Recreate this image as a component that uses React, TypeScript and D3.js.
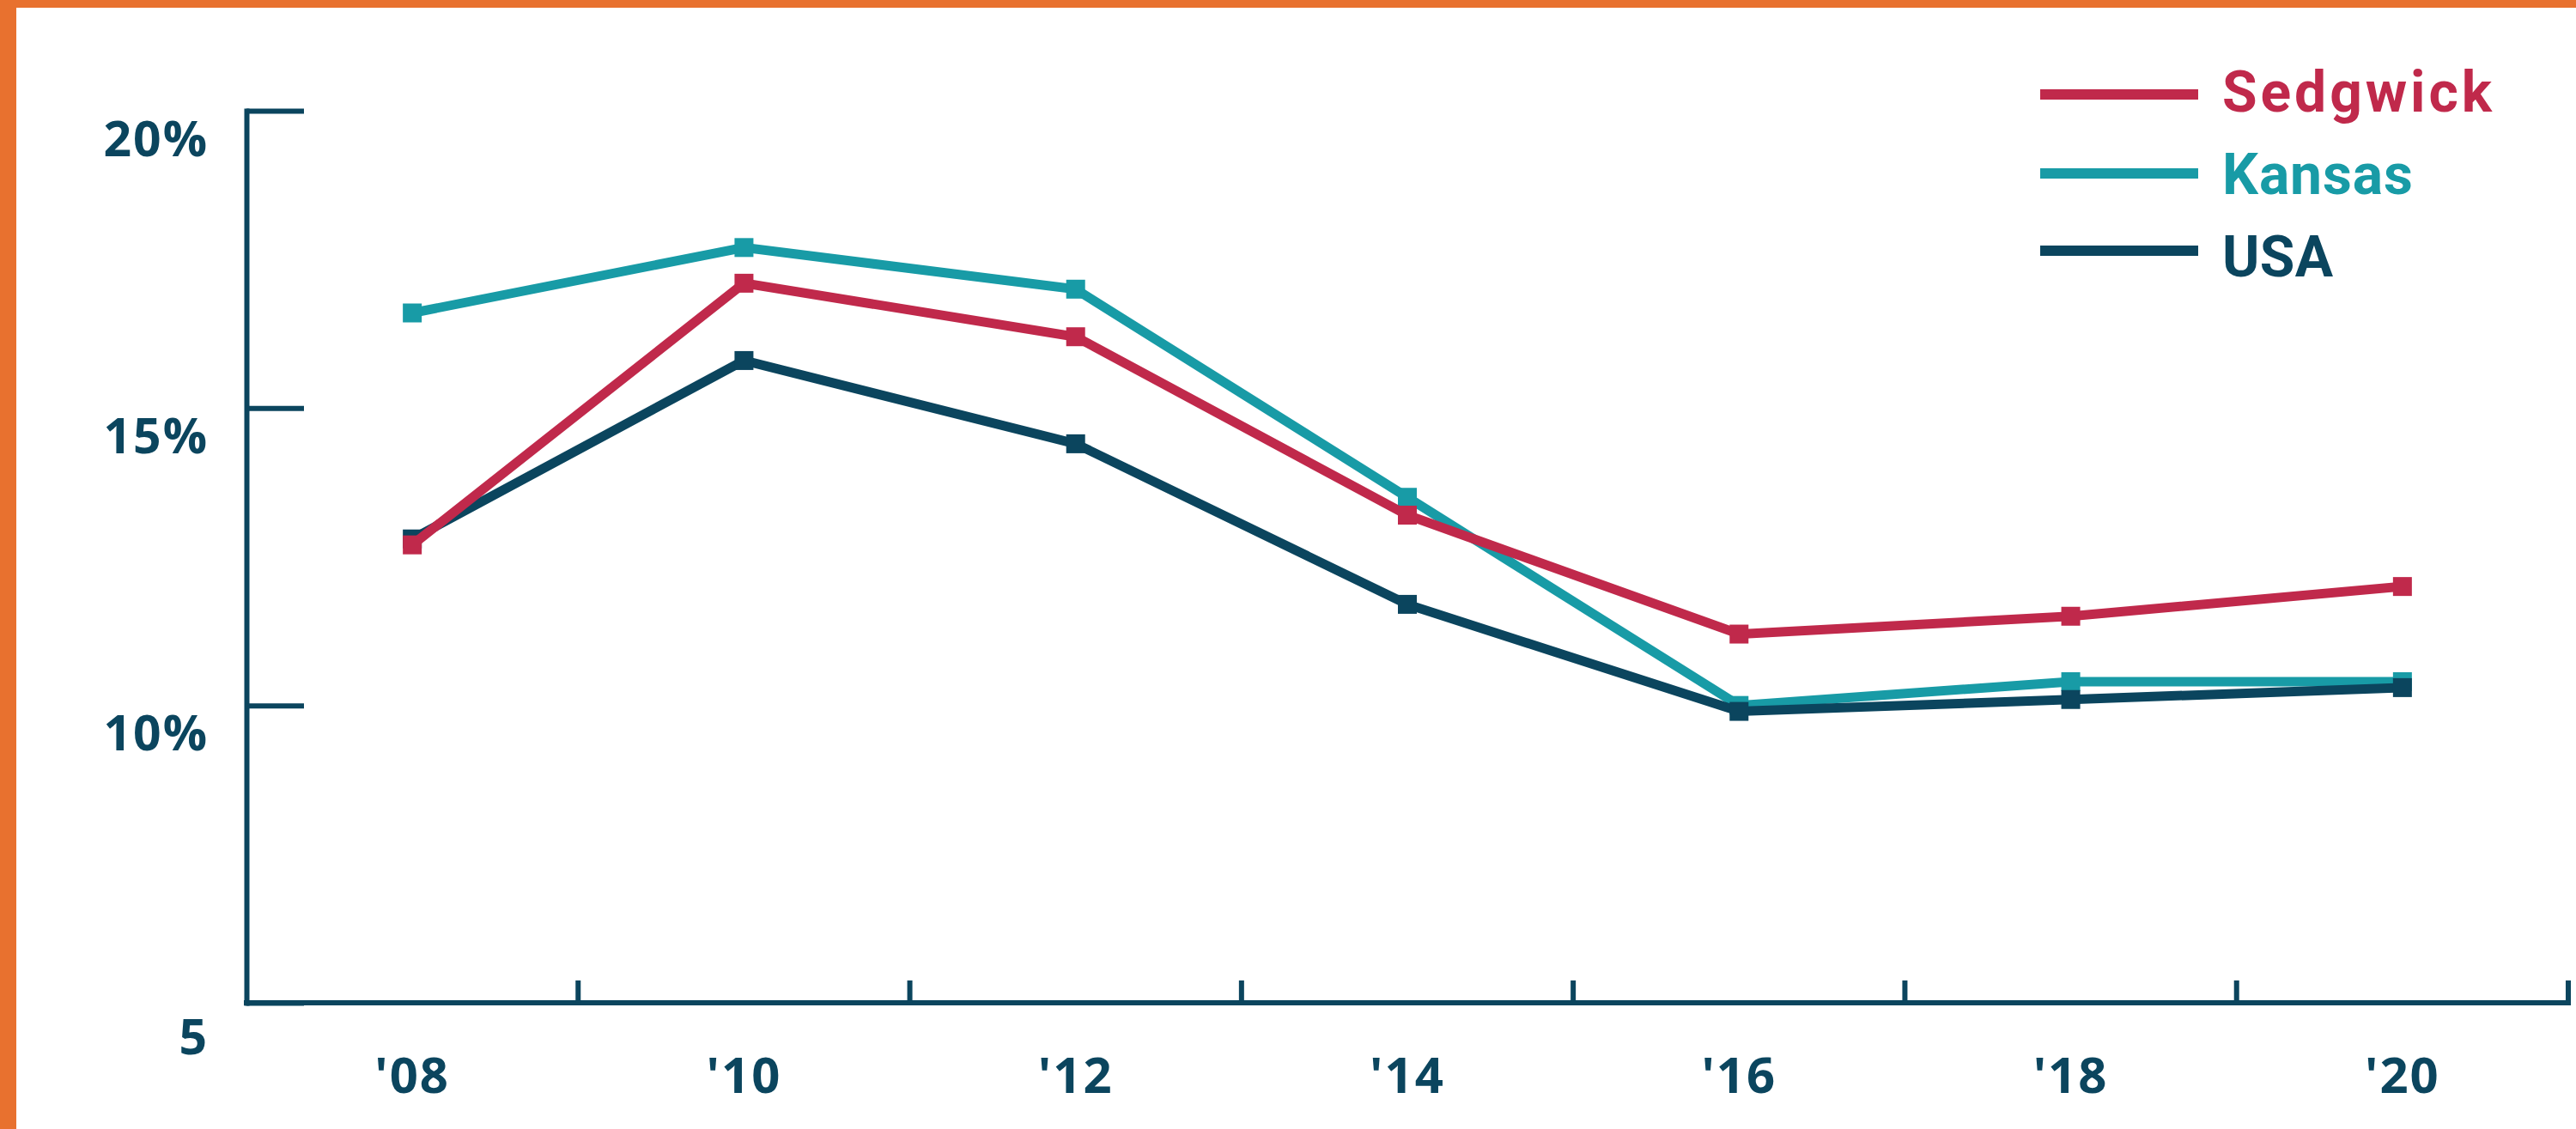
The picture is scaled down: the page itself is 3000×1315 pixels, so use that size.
import React, { useEffect, useRef } from 'react';
import * as d3 from 'd3';

const years = ["'08", "'10", "'12", "'14", "'16", "'18", "'20"];
const sedgwick = [12.7, 17.1, 16.2, 13.2, 11.2, 11.5, 12.0];
const kansas = [16.6, 17.7, 17.0, 13.5, 10.0, 10.4, 10.4];
const usa = [12.8, 15.8, 14.4, 11.7, 9.9, 10.1, 10.3];
const yTicks = [5, 10, 15, 20];
const yTickLabels = ['5', '10%', '15%', '20%'];

const NAVY = '#0b455e';
const TEAL = '#189ba6';
const RED = '#c0294b';
const ORANGE = '#e8712f';

export default function App() {
  const svgRef = useRef<SVGSVGElement>(null);

  useEffect(() => {
    const width = 3000;
    const height = 1315;
    const axisX = 287;
    const axisRight = 2991;

    const svg = d3.select(svgRef.current);
    svg.selectAll('*').remove();
    svg.attr('width', width).attr('height', height);

    svg.append('rect').attr('width', width).attr('height', height).attr('fill', '#fff');
    // orange frame (top and left only)
    svg.append('rect').attr('x', 0).attr('y', 0).attr('width', width).attr('height', 9).attr('fill', ORANGE);
    svg.append('rect').attr('x', 0).attr('y', 0).attr('width', 19).attr('height', height).attr('fill', ORANGE);

    const x = d3.scaleBand<string>().domain(years).range([axisX, axisRight]);
    const cx = (d: string) => (x(d) as number) + x.bandwidth() / 2;
    const y = d3.scaleLinear().domain([5, 20]).range([1168, 129]);

    // y axis, ticks pointing into the plot
    const yAxis = d3.axisLeft(y)
      .tickValues(yTicks)
      .tickSizeInner(-67)
      .tickSizeOuter(0)
      .tickFormat((d, i) => yTickLabels[i]);

    const gy = svg.append('g')
      .attr('transform', `translate(${axisX},0)`)
      .call(yAxis);
    gy.select('.domain').attr('stroke', NAVY).attr('stroke-width', 6).attr('stroke-linecap', 'square');
    gy.selectAll('.tick line').attr('stroke', NAVY).attr('stroke-width', 6);
    gy.selectAll('.tick text')
      .attr('x', -44)
      .attr('y', (d: any) => (d === 5 ? 59 : 52))
      .attr('dy', null)
      .attr('fill', NAVY)
      .style('font-family', '"Open Sans", sans-serif')
      .style('font-weight', 700)
      .style('font-size', '57px')
      .style('letter-spacing', '2px');

    // x axis
    svg.append('line')
      .attr('x1', axisX - 3).attr('x2', axisRight + 3)
      .attr('y1', y(5)).attr('y2', y(5))
      .attr('stroke', NAVY).attr('stroke-width', 6);

    const tickXs = years.slice(1).map(d => x(d) as number).concat([axisRight]);
    svg.append('g').selectAll('line')
      .data(tickXs)
      .join('line')
      .attr('x1', d => d).attr('x2', d => d)
      .attr('y1', y(5)).attr('y2', y(5) - 26)
      .attr('stroke', NAVY).attr('stroke-width', 6);

    svg.append('g').selectAll('text')
      .data(years)
      .join('text')
      .attr('x', d => cx(d))
      .attr('y', 1273)
      .attr('text-anchor', 'middle')
      .attr('fill', NAVY)
      .style('font-family', '"Open Sans", sans-serif')
      .style('font-weight', 700)
      .style('font-size', '58px')
      .style('letter-spacing', '2px')
      .text(d => d);

    // series, drawn back to front
    const series = [
      { name: 'Kansas', values: kansas, color: TEAL },
      { name: 'USA', values: usa, color: NAVY },
      { name: 'Sedgwick', values: sedgwick, color: RED }
    ];

    const line = d3.line<number>()
      .x((d, i) => cx(years[i]))
      .y(d => y(d));

    const size = 22;
    series.forEach(s => {
      svg.append('path')
        .datum(s.values)
        .attr('fill', 'none')
        .attr('stroke', s.color)
        .attr('stroke-width', 11)
        .attr('d', line);

      svg.append('g').selectAll('rect')
        .data(s.values)
        .join('rect')
        .attr('x', (d, i) => cx(years[i]) - size / 2)
        .attr('y', d => y(d) - size / 2)
        .attr('width', size)
        .attr('height', size)
        .attr('fill', s.color);
    });

    // legend
    const legendItems = [
      { color: RED, text: 'Sedgwick', w: 314 },
      { color: TEAL, text: 'Kansas', w: 222 },
      { color: NAVY, text: 'USA', w: 129 }
    ];
    const lineYs = [110, 202, 292];
    const textYs = [130, 226, 322];

    legendItems.forEach((item, i) => {
      svg.append('line')
        .attr('x1', 2376).attr('x2', 2560)
        .attr('y1', lineYs[i]).attr('y2', lineYs[i])
        .attr('stroke', item.color)
        .attr('stroke-width', 12);

      svg.append('text')
        .attr('x', 2588)
        .attr('y', textYs[i])
        .attr('fill', item.color)
        .attr('textLength', item.w)
        .style('font-family', 'Roboto, sans-serif')
        .style('font-weight', 700)
        .style('font-size', '66px')
        .text(item.text);
    });
  }, []);

  return (
    <svg ref={svgRef} style={{ position: 'absolute', left: 0, top: 0, display: 'block' }}></svg>
  );
}
